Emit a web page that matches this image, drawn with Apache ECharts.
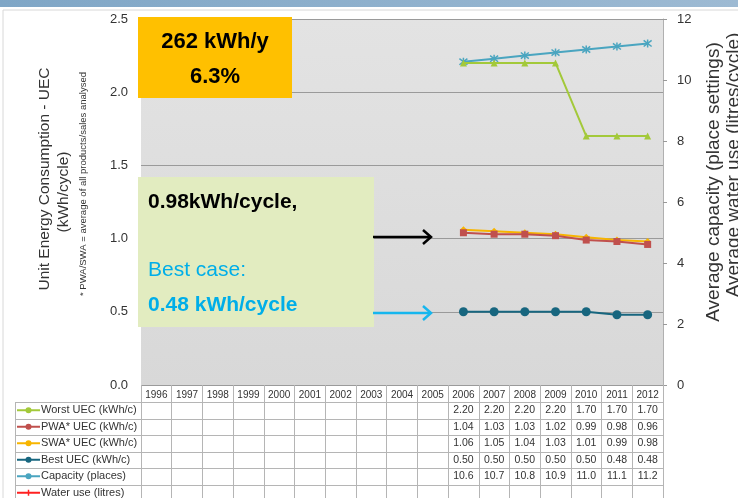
<!DOCTYPE html>
<html>
<head>
<meta charset="utf-8">
<script src="https://cdn.jsdelivr.net/npm/echarts@6/dist/echarts.min.js"></script>
<style>
  html, body { margin: 0; padding: 0; background: #fff; }
  #chart { width: 738px; height: 498px; }
</style>
</head>
<body>
<div id="chart"></div>
<script>
// years along the x axis
const years = ['1996','1997','1998','1999','2000','2001','2002','2003','2004','2005','2006','2007','2008','2009','2010','2011','2012'];
const pad = [null,null,null,null,null,null,null,null,null,null];
// UEC (kWh/cycle), left axis
const worstUEC = pad.concat([2.20, 2.20, 2.20, 2.20, 1.70, 1.70, 1.70]);
const pwaUEC   = pad.concat([1.04, 1.03, 1.03, 1.02, 0.99, 0.98, 0.96]);
const swaUEC   = pad.concat([1.06, 1.05, 1.04, 1.03, 1.01, 0.99, 0.98]);
const bestUEC  = pad.concat([0.50, 0.50, 0.50, 0.50, 0.50, 0.48, 0.48]);
// capacity (place settings), right axis
const capacity = pad.concat([10.6, 10.7, 10.8, 10.9, 11.0, 11.1, 11.2]);
const waterUse = pad.concat([null, null, null, null, null, null, null]);

const rows = [
  {name: 'Worst UEC (kWh/c)',  data: worstUEC, color: '#a3c93a', symbol: 'triangle', fmt: 2},
  {name: 'PWA* UEC (kWh/c)',   data: pwaUEC,   color: '#c0504d', symbol: 'rect',     fmt: 2},
  {name: 'SWA* UEC (kWh/c)',   data: swaUEC,   color: '#f7b500', symbol: 'diamond',  fmt: 2},
  {name: 'Best UEC (kWh/c)',   data: bestUEC,  color: '#17667f', symbol: 'circle',   fmt: 2},
  {name: 'Capacity (places)',  data: capacity, color: '#4aa5c0', symbol: 'star',     fmt: 1},
  {name: 'Water use (litres)', data: waterUse, color: '#ff2020', symbol: 'none',     fmt: 1}
];

const FONT = 'Liberation Sans, Arial, sans-serif';
const chart = echarts.init(document.getElementById('chart'));

const series = rows.map((r, i) => ({
  name: r.name,
  type: 'line',
  yAxisIndex: (i >= 4) ? 1 : 0,
  data: r.data,
  symbol: r.symbol === 'none' ? 'none' : (r.symbol === 'star' ? 'path://M-1,-1L1,1M1,-1L-1,1M0,-1.3L0,1.3' : r.symbol),
  symbolSize: r.symbol === 'circle' ? 9 : (r.symbol === 'star' ? 8 : 7),
  itemStyle: {color: r.color, borderColor: r.color, borderWidth: r.symbol === 'star' ? 1.5 : 0},
  lineStyle: {color: r.color, width: 2},
  z: 5 - i,
  animation: false
}));

chart.setOption({
  animation: false,
  grid: {
    left: 141, right: 75, top: 19, bottom: 113,
    show: true, borderWidth: 0,
    backgroundColor: new echarts.graphic.LinearGradient(0, 0, 0, 1, [
      {offset: 0, color: '#e3e3e3'}, {offset: 1, color: '#d8d8d8'}
    ])
  },
  xAxis: {
    type: 'category',
    data: years,
    boundaryGap: true,
    axisLine: {show: false},
    axisTick: {show: true, length: 115, lineStyle: {color: '#b5b5b5'}},
    axisLabel: {margin: 5, fontSize: 10, color: '#333', fontFamily: FONT, interval: 0}
  },
  yAxis: [
    {
      type: 'value', min: 0, max: 2.5, interval: 0.5,
      axisLine: {show: false}, axisTick: {show: false},
      axisLabel: {margin: 13, fontSize: 13, color: '#333', fontFamily: FONT,
        formatter: v => v.toFixed(1)},
      splitLine: {lineStyle: {color: '#9a9a9a', width: 1}}
    },
    {
      type: 'value', min: 0, max: 12, interval: 2, position: 'right',
      axisLine: {show: true, lineStyle: {color: '#b0b0b0'}},
      axisTick: {show: true, length: 4, lineStyle: {color: '#999'}},
      axisLabel: {margin: 14, fontSize: 13, color: '#333', fontFamily: FONT},
      splitLine: {show: false}
    }
  ],
  series: series
});

// table + annotations, positioned from the axis scale
const g = [];
// slide header band and frame
g.push({type: 'rect', shape: {x: 0, y: 0, width: 738, height: 7},
  style: {fill: new echarts.graphic.LinearGradient(0, 0, 1, 0, [
    {offset: 0, color: '#7fa6c6'}, {offset: 1, color: '#9dbad3'}])}, z: 0});
g.push({type: 'rect', shape: {x: 3, y: 10, width: 760, height: 500},
  style: {fill: 'none', stroke: '#d8d8d8', lineWidth: 1}, z: 0});

const tableTop = 402, rowH = 16.5;
const xRight = chart.convertToPixel({xAxisIndex: 0}, years.length - 1) + 15.35;
for (let k = 0; k <= rows.length; k++) {
  const y = Math.round(tableTop + k * rowH) + 0.5;
  g.push({type: 'line', shape: {x1: 15, y1: y, x2: xRight, y2: y},
    style: {stroke: '#b5b5b5', lineWidth: 1}, z: 10});
}
g.push({type: 'line', shape: {x1: 15.5, y1: tableTop, x2: 15.5, y2: 498},
  style: {stroke: '#b5b5b5', lineWidth: 1}, z: 10});
rows.forEach((r, k) => {
  const cy = tableTop + k * rowH + rowH / 2;
  g.push({type: 'line', shape: {x1: 17, y1: cy, x2: 40, y2: cy},
    style: {stroke: r.color, lineWidth: 2}, z: 11});
  if (r.symbol !== 'none') {
    g.push({type: 'circle', shape: {cx: 28.5, cy: cy, r: 3}, style: {fill: r.color}, z: 12});
  } else {
    g.push({type: 'line', shape: {x1: 28.5, y1: cy - 3, x2: 28.5, y2: cy + 3},
      style: {stroke: r.color, lineWidth: 1.5}, z: 12});
  }
  g.push({type: 'text', x: 41, y: cy,
    style: {text: r.name, fill: '#333', font: '11px ' + FONT, verticalAlign: 'middle'}, z: 11});
  r.data.forEach((v, i) => {
    if (v == null) return;
    const cx = chart.convertToPixel({xAxisIndex: 0}, i);
    g.push({type: 'text', x: cx, y: cy,
      style: {text: v.toFixed(r.fmt), fill: '#333', font: '10.5px ' + FONT,
        align: 'center', verticalAlign: 'middle'}, z: 11});
  });
});

// axis titles
g.push({type: 'text', x: 45, y: 179, rotation: Math.PI / 2,
  style: {text: 'Unit Energy Consumption - UEC', fill: '#333', font: '15.5px ' + FONT,
    align: 'center', verticalAlign: 'middle'}});
g.push({type: 'text', x: 64, y: 192, rotation: Math.PI / 2,
  style: {text: '(kWh/cycle)', fill: '#333', font: '15.5px ' + FONT,
    align: 'center', verticalAlign: 'middle'}});
g.push({type: 'text', x: 83, y: 184, rotation: Math.PI / 2,
  style: {text: '* PWA/SWA = average of all products/sales analysed', fill: '#333', font: '9.5px ' + FONT,
    align: 'center', verticalAlign: 'middle'}});
g.push({type: 'text', x: 714, y: 182, rotation: Math.PI / 2,
  style: {text: 'Average capacity (place settings)', fill: '#333', font: '19px ' + FONT,
    align: 'center', verticalAlign: 'middle'}});
g.push({type: 'text', x: 734, y: 165, rotation: Math.PI / 2,
  style: {text: 'Average water use (litres/cycle)', fill: '#333', font: '19px ' + FONT,
    align: 'center', verticalAlign: 'middle'}});

// annotation boxes
g.push({type: 'rect', shape: {x: 138, y: 17, width: 154, height: 81}, style: {fill: '#ffc000'}, z: 20});
g.push({type: 'text', x: 215, y: 42, z: 21,
  style: {text: '262 kWh/y', fill: '#000', font: 'bold 22px ' + FONT, align: 'center', verticalAlign: 'middle'}});
g.push({type: 'text', x: 215, y: 77, z: 21,
  style: {text: '6.3%', fill: '#000', font: 'bold 22px ' + FONT, align: 'center', verticalAlign: 'middle'}});

g.push({type: 'rect', shape: {x: 138, y: 177, width: 236, height: 150}, style: {fill: '#e2ecc0'}, z: 20});
g.push({type: 'text', x: 148, y: 202, z: 21,
  style: {text: '0.98kWh/cycle,', fill: '#000', font: 'bold 21px ' + FONT, verticalAlign: 'middle'}});
g.push({type: 'text', x: 148, y: 270, z: 21,
  style: {text: 'Best case:', fill: '#00aee8', font: '21px ' + FONT, verticalAlign: 'middle'}});
g.push({type: 'text', x: 148, y: 305, z: 21,
  style: {text: '0.48 kWh/cycle', fill: '#00aee8', font: 'bold 21px ' + FONT, verticalAlign: 'middle'}});

// arrows
[[237, '#000'], [313, '#16b6ee']].forEach(([y, c]) => {
  g.push({type: 'line', shape: {x1: 373, y1: y, x2: 431, y2: y}, style: {stroke: c, lineWidth: 2.5}, z: 21});
  g.push({type: 'polyline', shape: {points: [[423, y - 7], [431, y], [423, y + 7]]},
    style: {stroke: c, lineWidth: 2.5, fill: 'none'}, z: 21});
});

chart.setOption({graphic: g});
</script>
</body>
</html>
